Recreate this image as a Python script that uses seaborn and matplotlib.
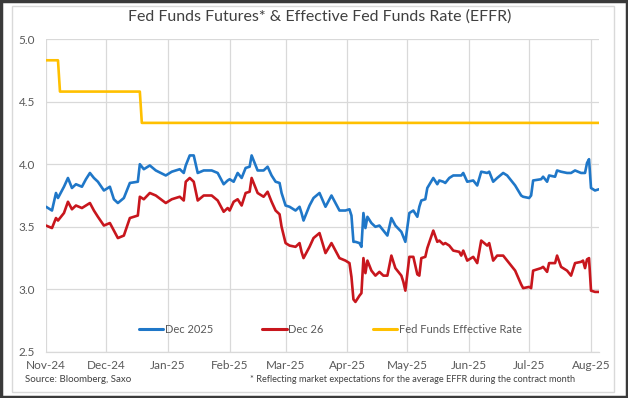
import matplotlib
matplotlib.use("Agg")
import matplotlib.pyplot as plt
import matplotlib.dates as mdates
from matplotlib.patches import Rectangle
from matplotlib.lines import Line2D
import seaborn as sns
import pandas as pd

# ---------------- data ----------------
dates = ["2024-11-01","2024-11-04","2024-11-06","2024-11-07","2024-11-10","2024-11-12",
         "2024-11-14","2024-11-16","2024-11-19","2024-11-21","2024-11-23","2024-11-25",
         "2024-11-27","2024-11-30","2024-12-03","2024-12-05","2024-12-07","2024-12-10",
         "2024-12-13","2024-12-17","2024-12-18","2024-12-20","2024-12-23","2024-12-26",
         "2024-12-31","2025-01-03","2025-01-07","2025-01-09","2025-01-10","2025-01-12",
         "2025-01-14","2025-01-16","2025-01-19","2025-01-23","2025-01-26","2025-01-29",
         "2025-01-31","2025-02-01","2025-02-03","2025-02-05","2025-02-07","2025-02-09",
         "2025-02-11","2025-02-12","2025-02-15","2025-02-18","2025-02-20","2025-02-22",
         "2025-02-24","2025-02-26","2025-02-27","2025-03-01","2025-03-03","2025-03-06",
         "2025-03-08","2025-03-09","2025-03-10","2025-03-13","2025-03-15","2025-03-18",
         "2025-03-21","2025-03-24","2025-03-28","2025-03-31","2025-04-02","2025-04-03",
         "2025-04-04","2025-04-05","2025-04-07","2025-04-08","2025-04-09","2025-04-10",
         "2025-04-11","2025-04-13","2025-04-15","2025-04-17","2025-04-19","2025-04-21",
         "2025-04-23","2025-04-25","2025-04-28","2025-04-29","2025-04-30","2025-05-02",
         "2025-05-04","2025-05-06","2025-05-07","2025-05-08","2025-05-10","2025-05-11",
         "2025-05-14","2025-05-16","2025-05-17","2025-05-19","2025-05-20","2025-05-22",
         "2025-05-24","2025-05-27","2025-05-28","2025-05-29","2025-05-31","2025-06-03",
         "2025-06-05","2025-06-07","2025-06-10","2025-06-11","2025-06-13","2025-06-15",
         "2025-06-18","2025-06-20","2025-06-24","2025-06-27","2025-06-28","2025-07-01",
         "2025-07-02","2025-07-03","2025-07-07","2025-07-08","2025-07-10","2025-07-11",
         "2025-07-14","2025-07-15","2025-07-17","2025-07-20","2025-07-22","2025-07-24",
         "2025-07-27","2025-07-28","2025-07-29","2025-07-30","2025-07-31","2025-08-01",
         "2025-08-03","2025-08-05"]

dec2025 = [3.66,3.63,3.77,3.73,3.82,3.89,3.81,3.84,3.82,3.88,3.93,3.89,
           3.86,3.79,3.82,3.72,3.69,3.73,3.85,3.86,4.00,3.96,3.99,3.95,
           3.91,3.94,3.96,3.93,3.99,4.07,4.07,3.93,3.95,3.95,3.93,3.84,
           3.87,3.88,3.86,3.93,3.89,3.97,3.98,4.07,3.95,3.95,3.98,3.91,
           3.86,3.85,3.77,3.67,3.66,3.63,3.66,3.61,3.55,3.67,3.73,3.77,
           3.66,3.75,3.63,3.63,3.64,3.59,3.38,3.38,3.37,3.34,3.61,3.49,
           3.58,3.53,3.50,3.51,3.47,3.43,3.57,3.51,3.46,3.42,3.38,3.61,
           3.63,3.58,3.66,3.71,3.72,3.81,3.89,3.84,3.87,3.86,3.85,3.89,
           3.91,3.91,3.91,3.93,3.86,3.87,3.83,3.94,3.93,3.94,3.86,3.89,
           3.93,3.91,3.83,3.75,3.74,3.73,3.75,3.87,3.88,3.90,3.86,3.91,
           3.90,3.95,3.94,3.93,3.93,3.95,3.93,3.93,3.93,4.01,4.04,3.81,
           3.79,3.80]

dec26 = [3.51,3.49,3.57,3.55,3.61,3.70,3.64,3.67,3.65,3.67,3.69,3.63,
         3.58,3.51,3.53,3.47,3.41,3.43,3.57,3.59,3.74,3.72,3.77,3.75,
         3.69,3.72,3.74,3.71,3.86,3.89,3.86,3.71,3.75,3.75,3.71,3.62,
         3.65,3.63,3.70,3.72,3.67,3.77,3.78,3.89,3.77,3.74,3.78,3.70,
         3.63,3.60,3.50,3.37,3.35,3.34,3.37,3.30,3.25,3.34,3.41,3.45,
         3.29,3.37,3.25,3.23,3.21,3.10,2.92,2.90,2.95,2.97,3.25,3.13,
         3.23,3.15,3.11,3.14,3.11,3.11,3.27,3.17,3.11,3.06,2.99,3.26,
         3.26,3.12,3.11,3.25,3.26,3.33,3.47,3.38,3.39,3.36,3.37,3.35,
         3.31,3.30,3.27,3.31,3.23,3.26,3.21,3.39,3.35,3.37,3.23,3.27,
         3.27,3.23,3.15,3.04,3.01,3.02,3.01,3.15,3.17,3.18,3.14,3.21,
         3.21,3.27,3.18,3.15,3.11,3.21,3.22,3.23,3.17,3.24,3.25,2.99,
         2.98,2.98]

effr_dates = ["2024-11-01","2024-11-07","2024-11-08","2024-12-18","2024-12-19","2025-08-05"]
effr = [4.83,4.83,4.58,4.58,4.33,4.33]

series_names = ["Dec 2025", "Dec 26", "Fed Funds Effective Rate"]
colors = ["#1F77C8", "#C8161D", "#FFC000"]
title = "Fed Funds Futures* & Effective Fed Funds Rate (EFFR)"
y_ticks = [2.5, 3.0, 3.5, 4.0, 4.5, 5.0]

# ---------------- frame ----------------
df = pd.concat([
    pd.DataFrame({"date": pd.to_datetime(dates), "value": dec2025, "series": series_names[0]}),
    pd.DataFrame({"date": pd.to_datetime(dates), "value": dec26, "series": series_names[1]}),
    pd.DataFrame({"date": pd.to_datetime(effr_dates), "value": effr, "series": series_names[2]}),
], ignore_index=True)

sns.set_theme(style="white")
FONT = ["Lato", "DejaVu Sans"]
plt.rcParams["font.family"] = FONT

W, H = 628, 398
fig = plt.figure(figsize=(W / 100, H / 100), dpi=100)
fig.patch.set_facecolor("white")
ax = fig.add_axes([46 / W, 1 - 352 / H, (599 - 46) / W, (352 - 39) / H])

sns.lineplot(data=df, x="date", y="value", hue="series", palette=dict(zip(series_names, colors)),
             hue_order=series_names, linewidth=1.9, ax=ax, legend=False, estimator=None, sort=True)

ax.set_xlim(pd.Timestamp("2024-11-01"), pd.Timestamp("2025-08-05"))
ax.set_ylim(2.5, 5.0)
ax.set_yticks(y_ticks)
ax.set_yticklabels([f"{v:.1f}" for v in y_ticks])
ax.xaxis.set_major_locator(mdates.MonthLocator())
ax.xaxis.set_major_formatter(mdates.DateFormatter("%b-%y"))
ax.set_xlabel("")
ax.set_ylabel("")

ax.grid(True, color="#D9D9D9", linewidth=0.9)
ax.set_axisbelow(True)
for s in ["top", "right", "left"]:
    ax.spines[s].set_visible(False)
ax.spines["bottom"].set_color("#D9D9D9")
ax.spines["bottom"].set_linewidth(0.9)
ax.tick_params(axis="x", length=4, color="#D9D9D9", labelsize=8.5, labelcolor="#595959", pad=1.5)
ax.tick_params(axis="y", length=0, labelsize=8.5, labelcolor="#595959", pad=8)

handles = [Line2D([0], [0], color=c, lw=2.2) for c in colors]
ax.legend(handles, series_names, loc="lower center", bbox_to_anchor=(0.514, 0.03), ncol=3,
          frameon=False, fontsize=8, handlelength=2.2, handletextpad=0.15, columnspacing=4.4,
          labelcolor="#595959", borderpad=0.2)

fig.text(320 / W, 1 - 17 / H, title, ha="center", va="center", fontsize=11.5, color="#404040")
fig.text(25 / W, 1 - 380 / H, "Source: Bloomberg, Saxo", ha="left", va="center",
         fontsize=7, color="#404040")
fig.text(575 / W, 1 - 379 / H,
         "* Reflecting market expectations for the average EFFR during the contract month",
         ha="right", va="center", fontsize=6.55, color="#404040")

fig.patches.append(Rectangle((12 / W, 1 - 392 / H), (614 - 12) / W, (392 - 6) / H,
                             transform=fig.transFigure, fill=False, edgecolor="#D9D9D9", lw=1))
fig.patches.append(Rectangle((0.002, 0.003), 0.996, 0.994, transform=fig.transFigure,
                             fill=False, edgecolor="#3A3A3A", lw=2.5))

fig.savefig("out.png", dpi=100)
